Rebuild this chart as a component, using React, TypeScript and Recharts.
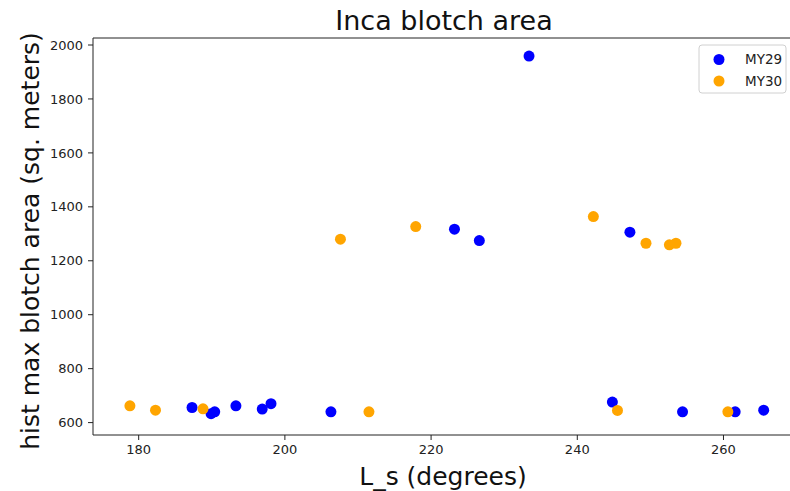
import React from 'react';
import { ScatterChart, Scatter, XAxis, YAxis, Customized, ReferenceLine } from 'recharts';

const my29Ls = [187.3, 189.9, 190.4, 193.3, 196.9, 198.1, 206.3, 223.2, 226.6, 233.4, 244.8, 247.2, 254.4, 261.6, 265.5];
const my29Area = [656, 633, 640, 662, 650, 670, 640, 1317, 1275, 1959, 676, 1306, 640, 640, 646];
const my30Ls = [178.8, 182.3, 188.8, 207.6, 211.5, 217.9, 242.2, 245.5, 249.4, 252.6, 253.5, 260.6];
const my30Area = [662, 646, 651, 1280, 640, 1327, 1364, 645, 1265, 1259, 1265, 640];
const xTicks = [180, 200, 220, 240, 260];
const yTicks = [600, 800, 1000, 1200, 1400, 1600, 1800, 2000];

const seriesNames = ['MY29', 'MY30'];
const seriesColors = ['#0000ff', '#ffa500'];

const xDomain = [173.75, 269.1];
const yDomain = [554, 2026];

const my29 = my29Ls.map((x, i) => ({ x, y: my29Area[i] }));
const my30 = my30Ls.map((x, i) => ({ x, y: my30Area[i] }));

const FONT = '"DejaVu Sans", sans-serif';

const dot = (color: string) => (props: any) => (
  <circle cx={props.cx} cy={props.cy} r={5.5} fill={color} />
);

const Decorations = () => (
  <g>
    <text x={444} y={30} textAnchor="middle" fontSize={27} fontFamily={FONT} fill="#111">
      Inca blotch area
    </text>
    <text x={443} y={485} textAnchor="middle" fontSize={25} fontFamily={FONT} fill="#111">
      L_s (degrees)
    </text>
    <text
      x={0}
      y={0}
      transform="translate(39,241) rotate(-90)"
      textAnchor="middle"
      fontSize={25}
      fontFamily={FONT}
      fill="#111"
    >
      hist max blotch area (sq. meters)
    </text>
    <rect x={699} y={45} width={87} height={48} rx={3} fill="#fff" fillOpacity={0.8} stroke="#d0d0d0" />
    {seriesNames.map((n, i) => (
      <g key={n}>
        <circle cx={719} cy={59.5 + i * 21.5} r={5.5} fill={seriesColors[i]} />
        <text x={745} y={64 + i * 21.5} fontSize={13.5} fontFamily={FONT} fill="#222">
          {n}
        </text>
      </g>
    ))}
  </g>
);

export default function App() {
  return (
    <div style={{ position: 'absolute', left: 0, top: 0, background: '#fff' }}>
      <ScatterChart width={790} height={491} margin={{ top: 38, right: 0, left: 0, bottom: 0 }}>
        <XAxis
          type="number"
          dataKey="x"
          domain={xDomain}
          ticks={xTicks}
          height={56}
          tickSize={5}
          tickMargin={5}
          axisLine={{ stroke: '#222' }}
          tickLine={{ stroke: '#222' }}
          tick={{ fontSize: 13, fill: '#222', fontFamily: FONT }}
          allowDataOverflow
        />
        <YAxis
          type="number"
          dataKey="y"
          domain={yDomain}
          ticks={yTicks}
          width={93}
          tickSize={5}
          tickMargin={5}
          axisLine={{ stroke: '#222' }}
          tickLine={{ stroke: '#222' }}
          tick={{ fontSize: 13, fill: '#222', fontFamily: FONT }}
          allowDataOverflow
        />
        <ReferenceLine y={yDomain[1]} stroke="#222" strokeWidth={1} ifOverflow="visible" />
        <Scatter name={seriesNames[0]} data={my29} shape={dot(seriesColors[0])} isAnimationActive={false} />
        <Scatter name={seriesNames[1]} data={my30} shape={dot(seriesColors[1])} isAnimationActive={false} />
        <Customized component={<Decorations />} />
      </ScatterChart>
    </div>
  );
}
